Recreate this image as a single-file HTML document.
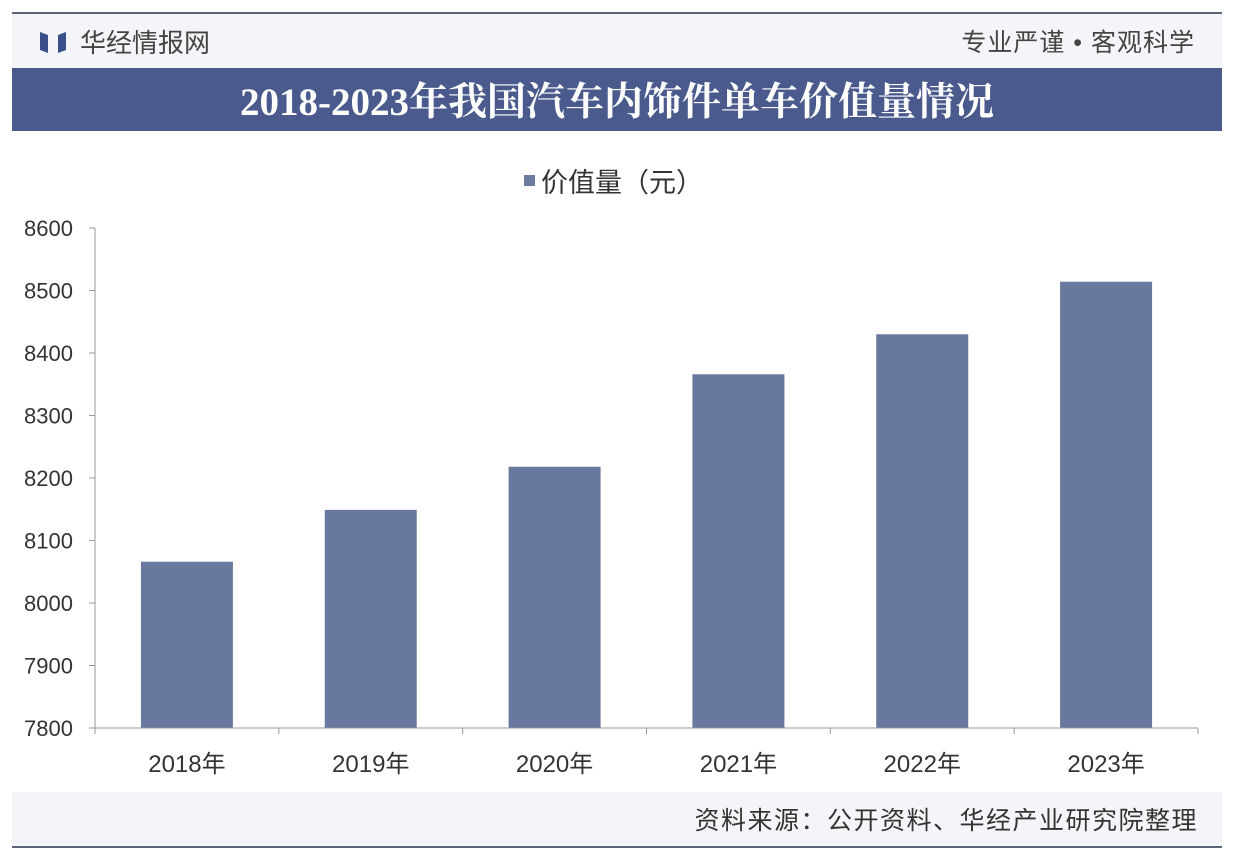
<!DOCTYPE html>
<html><head><meta charset="utf-8"><style>
body{margin:0;background:#fff;width:1238px;height:860px;overflow:hidden;font-family:"Liberation Sans","Noto Sans CJK SC",sans-serif}
svg{display:block}
</style></head><body>
<svg id="chart" width="1238" height="860" xmlns="http://www.w3.org/2000/svg">
<line x1="12" y1="13" x2="1222" y2="13" stroke="#5a6478" stroke-width="2"/>
<rect x="12" y="14" width="1210" height="54" fill="#f4f5f8"/>
<g><path d="M40 32 L48 35 L48 53 L40 50Z" fill="#3a4f8a"/><path d="M66 32 L58 35 L58 53 L66 50Z" fill="#3a4f8a"/></g>
<text x="80" y="52" font-size="26" fill="#444">华经情报网</text>
<text x="1195" y="51" font-size="25" fill="#444" text-anchor="end" letter-spacing="1">专业严谨 • 客观科学</text>
<rect x="12" y="68" width="1210" height="63" fill="#4a5a8c"/>
<text x="617" y="115" font-size="39" font-weight="bold" fill="#fff" text-anchor="middle" font-family="'Liberation Serif','Noto Serif CJK SC',serif">2018-2023年我国汽车内饰件单车价值量情况</text>
<rect x="524" y="175" width="11" height="11" fill="#6a7aa0"/>
<text x="541" y="192" font-size="27" fill="#333">价值量（元）</text>
<g id="plot"></g>
<rect x="12" y="792" width="1210" height="53" fill="#f4f5f8"/>
<text x="1198" y="829" font-size="25" fill="#333" text-anchor="end" letter-spacing="1.5">资料来源：公开资料、华经产业研究院整理</text>
<line x1="12" y1="847" x2="1222" y2="847" stroke="#5a6478" stroke-width="2"/>
</svg>
<script>
const categories=["2018年","2019年","2020年","2021年","2022年","2023年"];
const values=[8066,8149,8218,8366,8430,8514];
const yTicks=[7800,7900,8000,8100,8200,8300,8400,8500,8600];
const NS="http://www.w3.org/2000/svg";
const g=document.getElementById("plot");
const x0=95,x1=1198,yTop=228,yBot=728,yMin=7800,yMax=8600;
const y=v=>yBot-(v-yMin)/(yMax-yMin)*(yBot-yTop);
const bw=(x1-x0)/categories.length;
function mk(t,a){const e=document.createElementNS(NS,t);for(const k in a)e.setAttribute(k,a[k]);g.appendChild(e);return e;}
yTicks.forEach(v=>{
 const t=mk("text",{x:73,y:y(v)+8,"font-size":22,fill:"#333","text-anchor":"end"});t.textContent=v;
 
 
 const l=mk("line",{x1:x0-6,x2:x0,y1:y(v),y2:y(v),stroke:"#999"});
 
 
});
categories.forEach((c,i)=>{
 const cx=x0+bw*(i+0.5),w=92;
 const r=mk("rect",{x:cx-w/2,y:y(values[i]),width:w,height:yBot-y(values[i]),fill:"#68789e"});
 
 
 const t=mk("text",{x:cx,y:772,"font-size":24,fill:"#333","text-anchor":"middle"});t.textContent=c;
 
 
 const tk=mk("line",{x1:x0+bw*(i+1),x2:x0+bw*(i+1),y1:yBot,y2:yBot+6,stroke:"#999"});
 
 
});
const ya=mk("line",{x1:x0,x2:x0,y1:yTop,y2:yBot+6,stroke:"#999"});


const xa=mk("line",{x1:x0-6,x2:x1,y1:yBot,y2:yBot,stroke:"#999"});


</script>
</body></html>
